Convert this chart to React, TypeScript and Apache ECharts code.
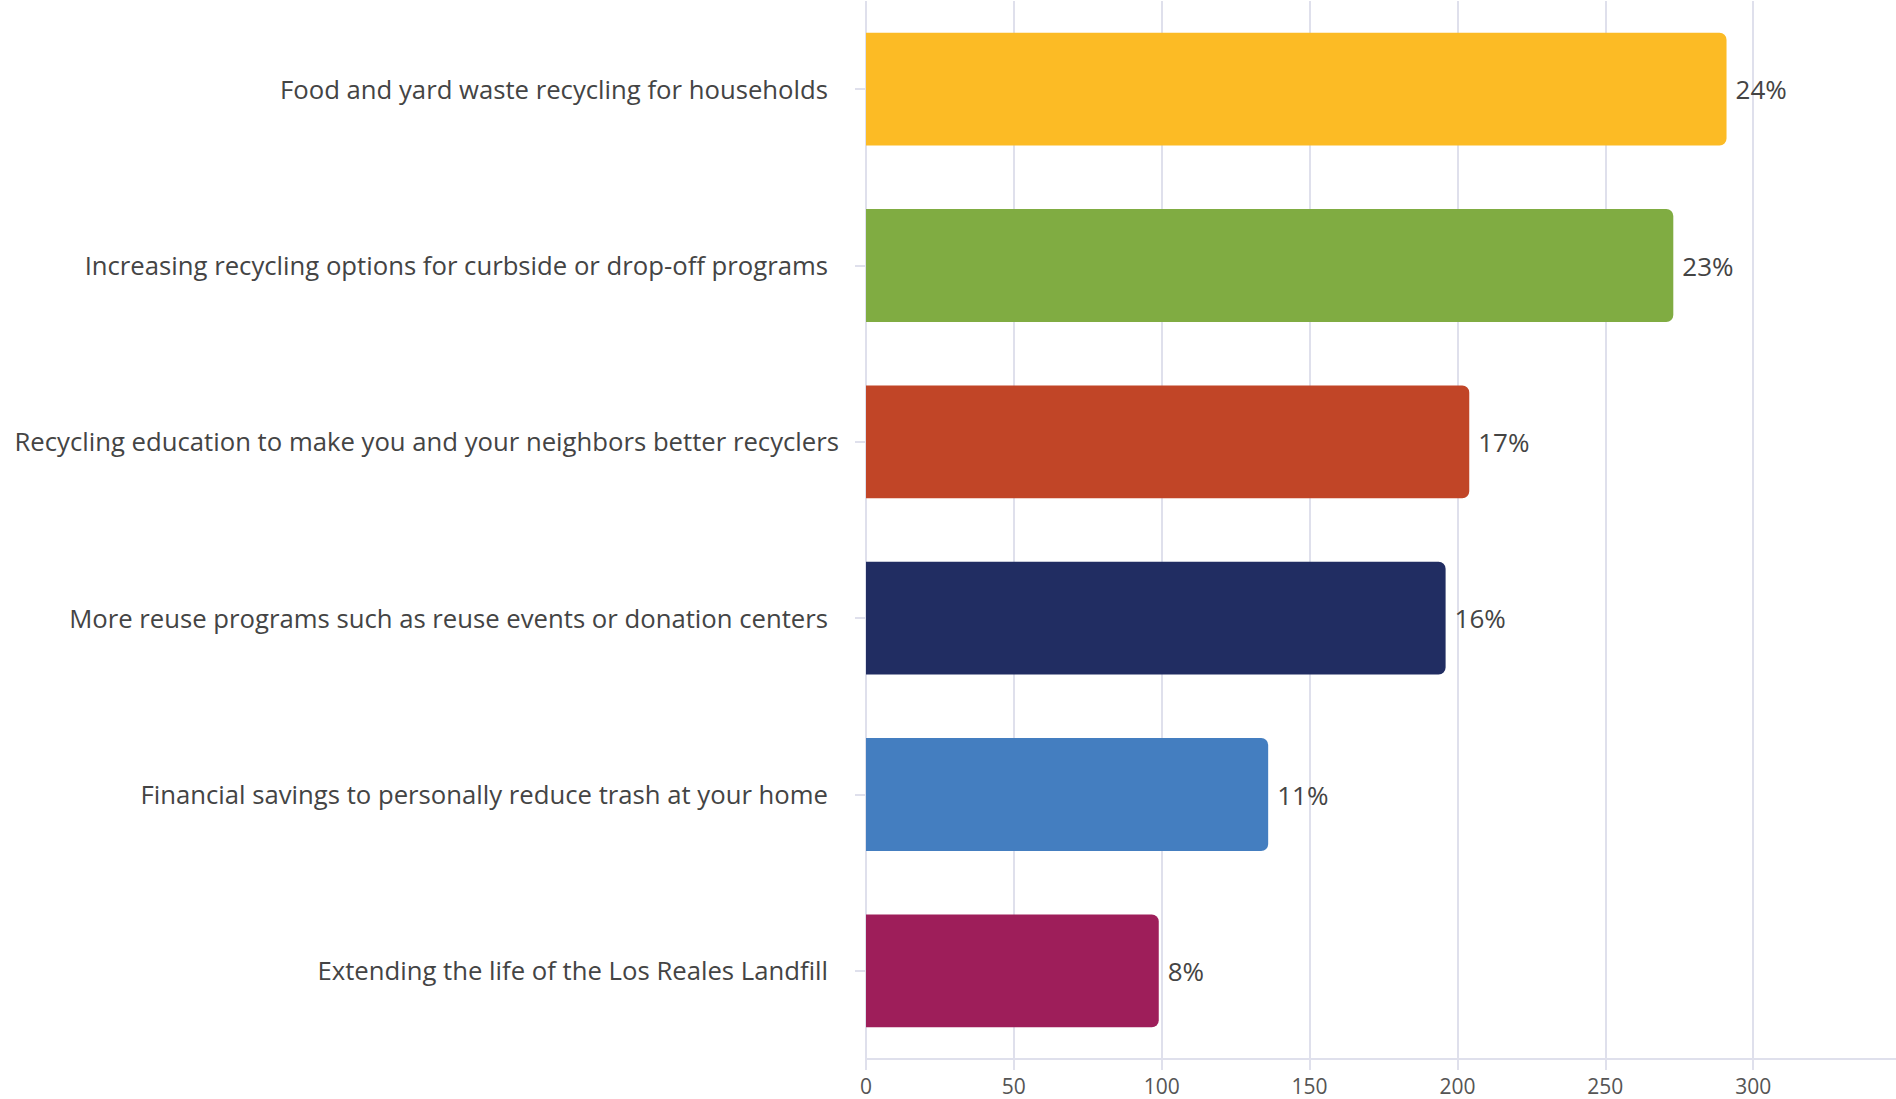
import React, { useEffect, useRef } from "react";
import * as echarts from "echarts";

const categories = [
  "Food and yard waste recycling for households",
  "Increasing recycling options for curbside or drop-off programs",
  "Recycling education to make you and your neighbors better recyclers",
  "More reuse programs such as reuse events or donation centers",
  "Financial savings to personally reduce trash at your home",
  "Extending the life of the Los Reales Landfill",
];
const counts = [291, 273, 204, 196, 136, 99];
const percents = ["24%", "23%", "17%", "16%", "11%", "8%"];
const barColors = ["#FCBB25", "#80AC42", "#C14527", "#212D62", "#447EC0", "#9E1E5A"];
const xTicks = { min: 0, max: 350, interval: 50 };

const FONT = "Open Sans";
const GRID_COLOR = "#DFE0EC";
const LABEL_SIZE = 25.7;

export default function App() {
  const ref = useRef<HTMLDivElement>(null);
  useEffect(() => {
    if (!ref.current) return;
    const chart = echarts.init(ref.current, null, { renderer: "svg" });
    chart.setOption({
      animation: false,
      backgroundColor: "#ffffff",
      grid: { left: 866, top: 1, width: 1035, height: 1058, containLabel: false },
      xAxis: {
        type: "value",
        min: xTicks.min,
        max: xTicks.max,
        interval: xTicks.interval,
        axisLine: { show: true, lineStyle: { color: GRID_COLOR, width: 2 } },
        axisTick: { show: true, length: 11, lineStyle: { color: GRID_COLOR, width: 2 } },
        splitLine: { show: true, showMaxLine: false, lineStyle: { color: GRID_COLOR, width: 2 } },
        axisLabel: {
          color: "#555555",
          fontFamily: FONT,
          fontSize: 21,
          margin: 16,
          showMaxLabel: false,
        },
      },
      yAxis: {
        type: "category",
        data: categories,
        inverse: true,
        axisLine: { show: false },
        axisTick: { show: true, alignWithLabel: true, length: 11, lineStyle: { color: GRID_COLOR, width: 2 } },
        splitLine: { show: false },
        axisLabel: {
          margin: 27,
          color: "#444444",
          fontFamily: FONT,
          fontSize: LABEL_SIZE,
          formatter: (v: string) => (v.length > 64 ? `{b|${v}}` : `{a|${v}}`),
          rich: {
            a: { color: "#444444", fontFamily: FONT, fontSize: LABEL_SIZE, padding: [0, 11, 0, 0] },
            b: { color: "#444444", fontFamily: FONT, fontSize: LABEL_SIZE },
          },
        },
      },
      series: [
        {
          type: "bar",
          barWidth: "64%",
          data: counts.map((v, i) => ({
            value: v,
            itemStyle: { color: barColors[i], borderRadius: [0, 7, 7, 0] },
          })),
          label: {
            show: true,
            position: "right",
            distance: 9,
            color: "#444444",
            fontFamily: FONT,
            fontSize: 26,
            formatter: (p: any) => percents[p.dataIndex],
          },
        },
      ],
    });
    return () => chart.dispose();
  }, []);
  return (
    <div
      ref={ref}
      style={{ position: "fixed", left: 0, top: 0, width: 1910, height: 1099, background: "#fff" }}
    />
  );
}
